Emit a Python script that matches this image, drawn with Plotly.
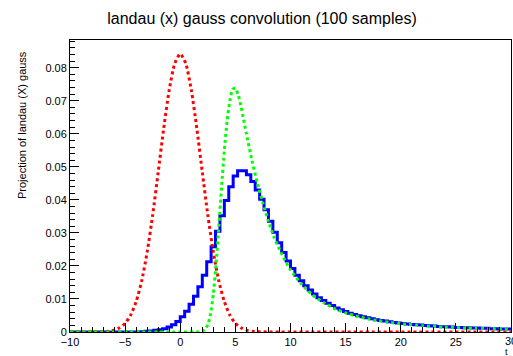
import numpy as np
import plotly.graph_objects as go

# ---- data ----
x_min, x_max, n_bins = -10.0, 30.0, 100
hist_values = [0.0]*16 + [
    0.0001, 0.0002, 0.0003, 0.0005, 0.0007, 0.0010, 0.0015, 0.0022, 0.0032, 0.0046,
    0.0063, 0.0084, 0.0108, 0.0137, 0.0172, 0.0213, 0.0258, 0.0305, 0.0352, 0.0398,
    0.0440, 0.0472, 0.0488, 0.0488, 0.0476, 0.0456, 0.0430, 0.0402, 0.0370, 0.0335,
    0.0302, 0.0270, 0.0241, 0.0215, 0.0192, 0.0172, 0.0155, 0.0140, 0.0127, 0.0115,
    0.0104, 0.0095, 0.0087, 0.0080, 0.0073, 0.0067, 0.0062, 0.0057, 0.0053, 0.0049,
    0.0046, 0.0043, 0.0040, 0.0037, 0.0035, 0.0033, 0.0031, 0.0029, 0.0027, 0.0026,
    0.0024, 0.0023, 0.0022, 0.0021, 0.0020, 0.0019, 0.0018, 0.0017, 0.0016, 0.0016,
    0.0015, 0.0014, 0.0014, 0.0013, 0.0013, 0.0012, 0.0012, 0.0011, 0.0011, 0.0010,
    0.0010, 0.0009, 0.0009, 0.0009]

gauss_x = [-10, -9, -8, -7, -6.5, -6, -5.5, -5, -4.5, -4, -3.5, -3, -2.5, -2, -1.5, -1, -0.5,
           0, 0.5, 1, 1.5, 2, 2.5, 3, 3.5, 4, 4.5, 5, 5.5, 6, 6.5, 7, 8, 9, 10, 20, 30]
gauss_y = [0, 0, 0.00001, 0.0001, 0.00024, 0.00058, 0.0013, 0.0026, 0.0051, 0.0092, 0.0154,
           0.0242, 0.0354, 0.0484, 0.0617, 0.0733, 0.0813, 0.0842, 0.0813, 0.0733, 0.0617,
           0.0484, 0.0354, 0.0242, 0.0154, 0.0092, 0.0051, 0.0026, 0.0013, 0.00058, 0.00024,
           0.0001, 0.00001, 0, 0, 0, 0]

landau_x = [-10, 0, 1.5, 2.0, 2.25, 2.5, 2.75, 3.0, 3.25, 3.5, 3.75, 4.0, 4.25, 4.5, 4.75, 5.0,
            5.25, 5.5, 5.75, 6.0, 6.5, 7.0, 7.5, 8.0, 8.5, 9.0, 9.5, 10, 11, 12, 13, 14, 15,
            16, 17, 18, 19, 20, 22, 24, 26, 28, 30]
landau_y = [0, 0, 0, 0.0002, 0.0008, 0.0022, 0.0055, 0.0115, 0.0205, 0.0320, 0.0440, 0.0550,
            0.0640, 0.0700, 0.0735, 0.0738, 0.0718, 0.0685, 0.0643, 0.0600, 0.0520, 0.0450,
            0.0390, 0.0335, 0.0288, 0.0250, 0.0217, 0.0188, 0.0145, 0.0112, 0.0089, 0.0071,
            0.0058, 0.0048, 0.0040, 0.0034, 0.0029, 0.0025, 0.0019, 0.0015, 0.0012, 0.0010,
            0.0008]

title_text = "landau (x) gauss convolution (100 samples)"
y_title = "Projection of landau (X) gauss"
x_title = "t"
x_tick_vals = [-10, -5, 0, 5, 10, 15, 20, 25]
x_tick_text = ["\u221210", "\u22125", "0", "5", "10", "15", "20", "25"]
x_edge_label = "30"

edges = np.linspace(x_min, x_max, n_bins + 1)
hist_step_y = hist_values + [hist_values[-1]]

font = "Liberation Sans, Arial, sans-serif"
fig = go.Figure()
fig.add_trace(go.Scatter(x=edges, y=hist_step_y, mode="lines", line_shape="hv",
                         line=dict(color="#0000ff", width=3), showlegend=False))
fig.add_trace(go.Scatter(x=gauss_x, y=gauss_y, mode="lines", line_shape="spline",
                         line=dict(color="#ff0000", width=3, dash="dot", smoothing=0.6),
                         showlegend=False))
fig.add_trace(go.Scatter(x=landau_x, y=landau_y, mode="lines", line_shape="spline",
                         line=dict(color="#00ff00", width=3, dash="dot", smoothing=0.6),
                         showlegend=False))

axis_common = dict(showgrid=False, zeroline=False, showline=True, mirror=True,
                   linecolor="black", linewidth=1, ticks="inside", tickcolor="black",
                   tickfont=dict(family=font, size=11, color="black"))
fig.update_xaxes(range=[x_min, x_max], tickvals=x_tick_vals, ticktext=x_tick_text, ticklen=9,
                 minor=dict(ticks="inside", dtick=1, tick0=0, ticklen=5, tickcolor="black"),
                 **axis_common)
fig.update_yaxes(range=[0, 0.0884], dtick=0.01, tick0=0, ticklen=9,
                 minor=dict(ticks="inside", dtick=0.002, ticklen=5, tickcolor="black"),
                 **axis_common)

fig.update_layout(
    width=513, height=356,
    margin=dict(l=70, r=2, t=40, b=24),
    paper_bgcolor="white", plot_bgcolor="white",
    title=dict(text=title_text, x=262/513, xref="container", xanchor="center",
               y=1 - 18/356, yref="container", yanchor="middle",
               font=dict(family=font, size=16, color="black")),
    annotations=[
        dict(text=y_title, textangle=-90, xref="paper", yref="paper", x=0, y=1,
             xanchor="center", yanchor="top", xshift=-48, yshift=-9, showarrow=False,
             font=dict(family=font, size=11, color="black")),
        dict(text=x_title, xref="paper", yref="paper", x=1, y=0, xanchor="right",
             yanchor="top", yshift=-13, xshift=-1, showarrow=False,
             font=dict(family=font, size=9, color="black")),
        dict(text=x_edge_label, xref="x", yref="paper", x=x_max, y=0, xanchor="center",
             yanchor="top", yshift=-1, showarrow=False,
             font=dict(family=font, size=11, color="black")),
    ],
)

fig.write_html("out.html")
